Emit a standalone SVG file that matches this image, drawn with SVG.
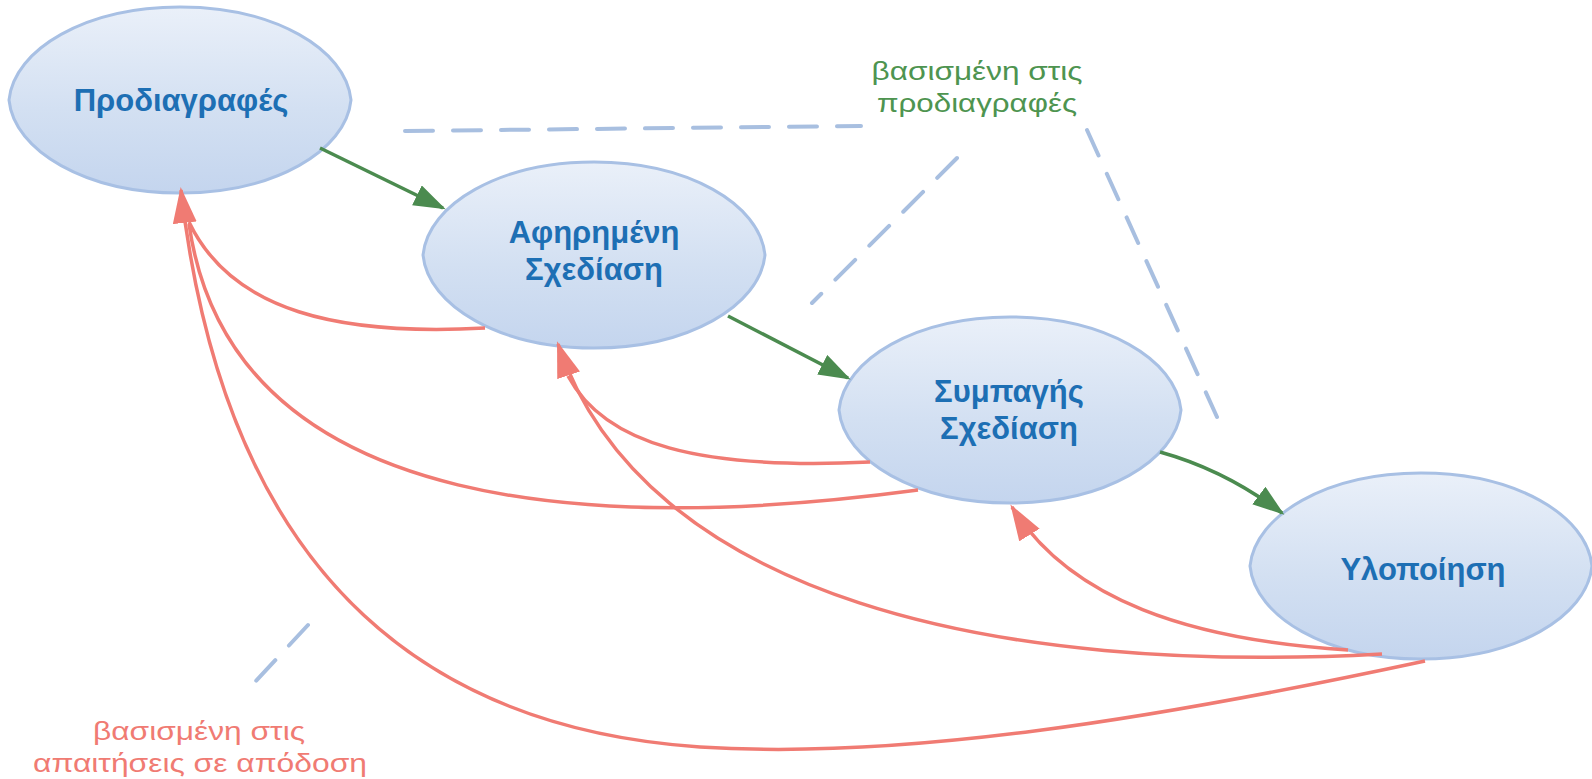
<svg xmlns="http://www.w3.org/2000/svg" width="1592" height="779" viewBox="0 0 1592 779">
<defs>
<linearGradient id="nodeFill" x1="0" y1="0" x2="0" y2="1">
<stop offset="0" stop-color="#eaf0f9"/>
<stop offset="0.55" stop-color="#d3e0f2"/>
<stop offset="1" stop-color="#c4d5ee"/>
</linearGradient>
<path id="lens" d="M-171,0 C-166,-51 -94,-93 0,-93 C94,-93 166,-51 171,0 C166,51 94,93 0,93 C-94,93 -166,51 -171,0 Z"/>
<marker id="arrRed" markerUnits="userSpaceOnUse" markerWidth="40" markerHeight="26" refX="33" refY="12" orient="auto">
<path d="M0,0 L36,12 L0,24 z" fill="#f07b73"/>
</marker>
<marker id="arrGreen" markerUnits="userSpaceOnUse" markerWidth="36" markerHeight="24" refX="29" refY="11" orient="auto">
<path d="M0,0 L32,11 L0,22 z" fill="#4b8b4f"/>
</marker>
</defs>
<style>
.node use { fill: url(#nodeFill); stroke: #a8c0e4; stroke-width: 3; }
.node text { font-family: "Liberation Sans", Arial, sans-serif; font-weight: bold; font-size: 31px; fill: #1d6fb4; text-anchor: middle; }
.red { fill: none; stroke: #f07b73; stroke-width: 3.5; }
.red.head { marker-end: url(#arrRed); }
.green { fill: none; stroke: #4b8b4f; stroke-width: 3.5; marker-end: url(#arrGreen); }
.dash { fill: none; stroke: #a8bfe0; stroke-width: 4; stroke-dasharray: 28 20; stroke-linecap: round; }
.lbl { font-family: "Liberation Sans", Arial, sans-serif; font-size: 26px; text-anchor: middle; }
.lbl-green { fill: #4e9450; }
.lbl-red { fill: #f07b73; }
</style>

<g id="annotations">
<path class="dash" d="M405,131 L861,126"/>
<path class="dash" d="M957,158 L812,303"/>
<path class="dash" d="M1087,130 L1217,417"/>
<path class="dash" d="M308,625 L255,682"/>
</g>

<g id="node-prodiagrafes" class="node">
<use href="#lens" transform="translate(180,100)"/>
<text x="181" y="111">Προδιαγραφές</text>
</g>
<g id="node-afirimeni" class="node">
<use href="#lens" transform="translate(594,255)"/>
<text x="594" y="243">Αφηρημένη</text>
<text x="594" y="280">Σχεδίαση</text>
</g>
<g id="node-sympagis" class="node">
<use href="#lens" transform="translate(1010,410)"/>
<text x="1009" y="402">Συμπαγής</text>
<text x="1009" y="439">Σχεδίαση</text>
</g>
<g id="node-ylopoiisi" class="node">
<use href="#lens" transform="translate(1421,566)"/>
<text x="1423" y="580">Υλοποίηση</text>
</g>

<g id="connectors">
<path class="green" d="M320,148 L443,208"/>
<path class="green" d="M728,316 L848,378"/>
<path class="green" d="M1160,452 Q1225,470 1282,513"/>
<path class="red" d="M485,328 C340,336 232,312 189,222"/>
<path class="red" d="M918,490 C620,530 232,525 189,224"/>
<path class="red head" d="M1425,661 C1150,720 900,760 700,747 C450,730 228,600 181,190"/>
<path class="red" d="M870,462 C700,470 605,445 568,376"/>
<path class="red head" d="M1382,654 C1000,675 645,600 558,344"/>
<path class="red head" d="M1348,650 C1190,640 1070,600 1012,507"/>
</g>

<g id="labels">
<text class="lbl lbl-green" x="977" y="80" textLength="211" lengthAdjust="spacingAndGlyphs">βασισμένη στις</text>
<text class="lbl lbl-green" x="977" y="112" textLength="200" lengthAdjust="spacingAndGlyphs">προδιαγραφές</text>
<text class="lbl lbl-red" x="199" y="740" textLength="212" lengthAdjust="spacingAndGlyphs">βασισμένη στις</text>
<text class="lbl lbl-red" x="200" y="772" textLength="334" lengthAdjust="spacingAndGlyphs">απαιτήσεις σε απόδοση</text>
</g>
</svg>
